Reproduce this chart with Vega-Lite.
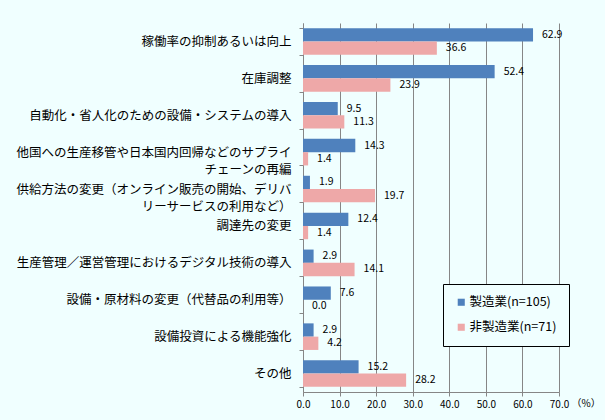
{
  "$schema": "https://vega.github.io/schema/vega-lite/v6.json",
  "width": 256,
  "height": 369,
  "autosize": {"type": "none"},
  "padding": {"left": 303, "top": 23, "right": 46, "bottom": 28},
  "background": "#f0ffff",
  "data": {
    "values": [
      {"category": "稼働率の抑制あるいは向上", "series": "製造業(n=105)", "value": 62.9},
      {"category": "稼働率の抑制あるいは向上", "series": "非製造業(n=71)", "value": 36.6},
      {"category": "在庫調整", "series": "製造業(n=105)", "value": 52.4},
      {"category": "在庫調整", "series": "非製造業(n=71)", "value": 23.9},
      {"category": "自動化・省人化のための設備・システムの導入", "series": "製造業(n=105)", "value": 9.5},
      {"category": "自動化・省人化のための設備・システムの導入", "series": "非製造業(n=71)", "value": 11.3},
      {"category": "他国への生産移管や日本国内回帰などのサプライ|チェーンの再編", "series": "製造業(n=105)", "value": 14.3},
      {"category": "他国への生産移管や日本国内回帰などのサプライ|チェーンの再編", "series": "非製造業(n=71)", "value": 1.4},
      {"category": "供給方法の変更（オンライン販売の開始、デリバ|リーサービスの利用など）", "series": "製造業(n=105)", "value": 1.9},
      {"category": "供給方法の変更（オンライン販売の開始、デリバ|リーサービスの利用など）", "series": "非製造業(n=71)", "value": 19.7},
      {"category": "調達先の変更", "series": "製造業(n=105)", "value": 12.4},
      {"category": "調達先の変更", "series": "非製造業(n=71)", "value": 1.4},
      {"category": "生産管理／運営管理におけるデジタル技術の導入", "series": "製造業(n=105)", "value": 2.9},
      {"category": "生産管理／運営管理におけるデジタル技術の導入", "series": "非製造業(n=71)", "value": 14.1},
      {"category": "設備・原材料の変更（代替品の利用等）", "series": "製造業(n=105)", "value": 7.6},
      {"category": "設備・原材料の変更（代替品の利用等）", "series": "非製造業(n=71)", "value": 0.0},
      {"category": "設備投資による機能強化", "series": "製造業(n=105)", "value": 2.9},
      {"category": "設備投資による機能強化", "series": "非製造業(n=71)", "value": 4.2},
      {"category": "その他", "series": "製造業(n=105)", "value": 15.2},
      {"category": "その他", "series": "非製造業(n=71)", "value": 28.2}
    ]
  },
  "encoding": {
    "y": {
      "field": "category",
      "type": "nominal",
      "sort": null,
      "scale": {"paddingInner": 0.28, "paddingOuter": 0.14},
      "axis": {
        "title": null,
        "labelFontSize": 12.5,
        "labelColor": "black",
        "labelLimit": 0,
        "labelLineHeight": 17,
        "labelExpr": "split(datum.label, '|')",
        "labelPadding": 8,
        "tickBand": "extent",
        "tickSize": 4,
        "tickColor": "#868686",
        "domainColor": "#868686"
      }
    },
    "yOffset": {"field": "series", "type": "nominal", "sort": null},
    "x": {
      "field": "value",
      "type": "quantitative",
      "scale": {"domain": [0, 70], "nice": false},
      "axis": {
        "title": "（%）",
        "titleX": 268,
        "titleY": 11,
        "titleAlign": "left",
        "titleBaseline": "middle",
        "titleFontSize": 10,
        "titleFontWeight": "normal",
        "titleColor": "black",
        "values": [0, 10, 20, 30, 40, 50, 60, 70],
        "format": ".1f",
        "labelFontSize": 10,
        "labelColor": "black",
        "labelPadding": 3,
        "labelFlush": false,
        "tickSize": 4,
        "tickColor": "#868686",
        "domainColor": "#868686",
        "grid": true,
        "gridColor": "#868686"
      }
    }
  },
  "layer": [
    {
      "mark": {"type": "bar"},
      "encoding": {
        "color": {
          "field": "series",
          "type": "nominal",
          "sort": null,
          "scale": {"domain": ["製造業(n=105)", "非製造業(n=71)"], "range": ["#4f81bd", "#eea8a8"]},
          "legend": {
            "title": null,
            "orient": "none",
            "legendX": 140,
            "legendY": 261,
            "strokeColor": "black",
            "fillColor": "#f0ffff",
            "padding": 12,
            "rowPadding": 12,
            "symbolType": "square",
            "symbolSize": 50,
            "symbolStrokeWidth": 0,
            "labelFontSize": 12.5,
            "labelColor": "black",
            "labelOffset": 2
          }
        }
      }
    },
    {
      "mark": {"type": "text", "align": "left", "dx": 9, "fontSize": 10.5, "color": "black"},
      "encoding": {
        "text": {"field": "value", "type": "quantitative", "format": ".1f"}
      }
    }
  ],
  "config": {
    "font": "Noto Sans CJK JP",
    "view": {"stroke": null},
    "axis": {"labelFont": "Noto Sans CJK JP", "titleFont": "Noto Sans CJK JP"},
    "legend": {"labelFont": "Noto Sans CJK JP"}
  }
}
